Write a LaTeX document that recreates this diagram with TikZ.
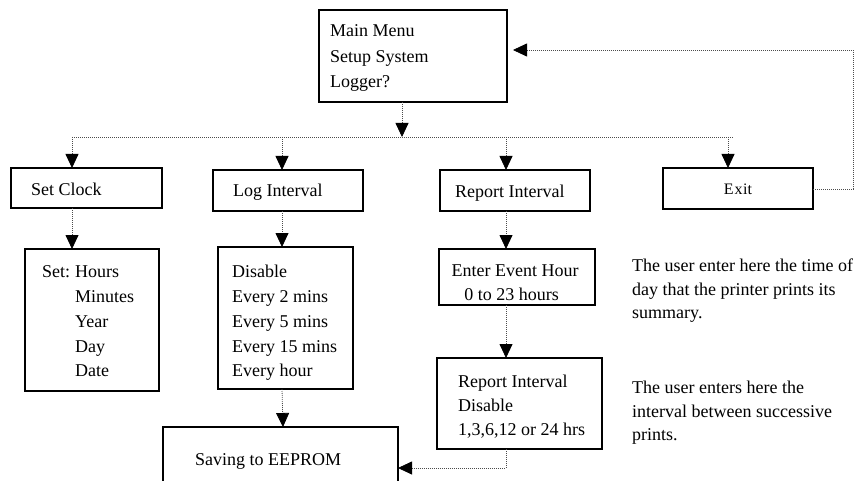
\documentclass[tikz,border=0pt]{standalone}
\usepackage{fontspec}
\setmainfont{Liberation Serif}
\usetikzlibrary{arrows.meta}
\begin{document}
\begin{tikzpicture}[x=1pt,y=-1pt,
  box/.style={draw, line width=1.2pt, rectangle, anchor=north west, inner sep=0pt, outer sep=0pt},
  txt/.style={anchor=base west, inner sep=0pt, font=\fontsize{18}{24}\selectfont},
  ctxt/.style={anchor=base, inner sep=0pt, font=\fontsize{18}{24}\selectfont},
  flow/.style={draw=black!70, line width=0.8pt, dash pattern=on 0.8pt off 1.2pt},
  tip/.style={-{Triangle[width=13pt,length=14pt,color=black]}}]
\useasboundingbox (0,0) rectangle (861,481);
\clip (0,0) rectangle (861,481);

% menu boxes
\node[box, minimum width=188pt, minimum height=92pt] (main) at (319,10) {};
\node[box, minimum width=151pt, minimum height=40pt] (clock) at (11,168) {};
\node[box, line width=1.8pt, minimum width=150pt, minimum height=41pt] (logint) at (213,170) {};
\node[box, minimum width=150pt, minimum height=41pt] (repint) at (440,170) {};
\node[box, minimum width=150pt, minimum height=41pt] (exitbox) at (663,168) {};
\node[box, minimum width=134pt, minimum height=142pt] (setbox) at (25,249) {};
\node[box, minimum width=135pt, minimum height=142pt] (logbox) at (218,247) {};
\node[box, minimum width=156pt, minimum height=56pt] (evbox) at (439,249) {};
\node[box, minimum width=165pt, minimum height=91pt] (rbox) at (437,358) {};
\node[box, minimum width=235pt, minimum height=80pt] (savebox) at (163,427) {};

% texts
\node[txt] (m1) at (330,37) {Main Menu};
\node[txt] (m2) at (330,63) {Setup System};
\node[txt] (m3) at (330,88) {Logger?};
\node[txt] (c1) at (31,195) {Set Clock};
\node[txt] (l1) at (233,196) {Log Interval};
\node[txt] (r1) at (455,197) {Report Interval};
\node[anchor=base, inner sep=0pt, font=\fontsize{16}{20}\selectfont] (x1) at (738,194) {E\kern1pt x\kern0.5pt it};
\node[txt] (s0) at (42,277) {Set:};
\node[txt] (s1) at (75,277) {Hours};
\node[txt] (s2) at (75,302) {Minutes};
\node[txt] (s3) at (75,327) {Year};
\node[txt] (s4) at (75,352) {Day};
\node[txt] (s5) at (75,376) {Date};
\node[txt] (g1) at (232,277) {Disable};
\node[txt] (g2) at (232,302) {Every 2 mins};
\node[txt] (g3) at (232,327) {Every 5 mins};
\node[txt] (g4) at (232,352) {Every 15 mins};
\node[txt] (g5) at (232,376) {Every hour};
\node[ctxt] (e1) at (515,276) {Enter Event Hour};
\node[ctxt] (e2) at (511.5,300) {0 to 23 hours};
\node[txt] (p1) at (458,387) {Report Interval};
\node[txt] (p2) at (458,411) {Disable};
\node[txt] (p3) at (458,435) {1,3,6,12 or 24 hrs};
\node[txt] (v1) at (195,465) {Saving to EEPROM};
\node[txt] (n1) at (632,271) {The user enter here the time of};
\node[txt] (n2) at (632,295) {day that the printer prints its};
\node[txt] (n3) at (632,318) {summary.};
\node[txt] (n4) at (632,393) {The user enters here the};
\node[txt] (n5) at (632,417) {interval between successive};
\node[txt] (n6) at (632,440) {prints.};

% menu bus
\coordinate (busL) at (72,137);
\coordinate (busR) at (733,137);
\draw[flow] (busL) -- (busR);
\draw[flow, tip] ([xshift=-11pt]main.south) -- ([xshift=-11pt]main.south |- busL);
\draw[flow, tip] ([xshift=-14.5pt]clock.north |- busL) -- ([xshift=-14.5pt]clock.north);
\draw[flow, tip] ([xshift=-6pt]logint.north |- busL) -- ([xshift=-6pt]logint.north);
\draw[flow, tip] ([xshift=-9pt]repint.north |- busL) -- ([xshift=-9pt]repint.north);
\draw[flow, tip] ([xshift=-10pt]exitbox.north |- busL) -- ([xshift=-10pt]exitbox.north);

% sub-menu links
\draw[flow, tip] ([xshift=-14.5pt]clock.south) -- ([xshift=-20pt]setbox.north);
\draw[flow, tip] ([xshift=-6pt]logint.south) -- ([xshift=-3.5pt]logbox.north);
\draw[flow, tip] ([xshift=-9pt]repint.south) -- ([xshift=-11pt]evbox.north);
\draw[flow, tip] ([xshift=-11pt]evbox.south) -- ([xshift=-13.5pt]rbox.north);
\draw[flow, tip] ([xshift=-3.5pt]logbox.south) -- ([xshift=2.5pt]savebox.north);
\coordinate (saveIn) at (398,468);
\draw[flow, tip] ([xshift=-13.5pt]rbox.south) |- (savebox.east |- saveIn);

% exit returns to the main menu
\coordinate (backIn) at (507,50);
\draw[flow, tip, shorten >=6pt] ([yshift=-0.5pt]exitbox.east) -- (853,189) -- (853,50) -- (main.east |- backIn);
\end{tikzpicture}
\end{document}
